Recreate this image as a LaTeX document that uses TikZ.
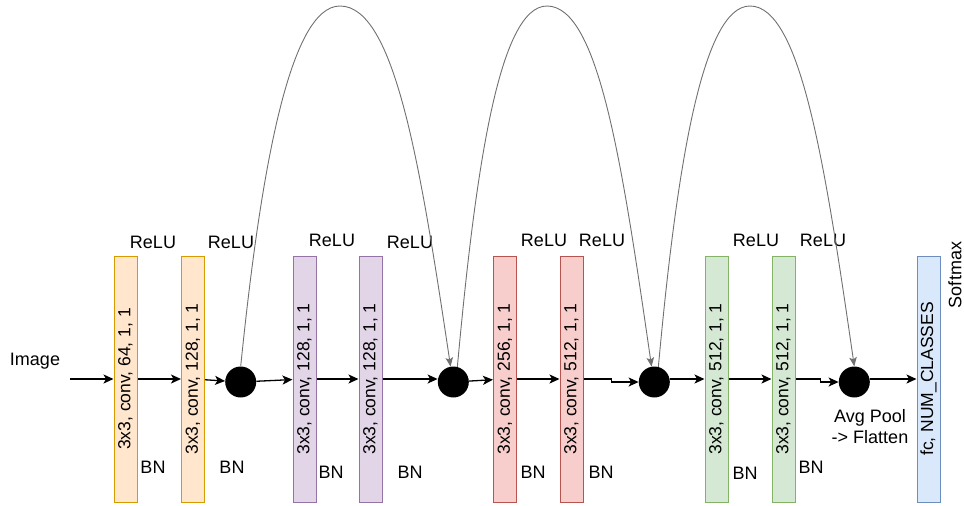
\documentclass[tikz,border=0pt]{standalone}
\usepackage{fontspec}
\setmainfont{Liberation Sans}
\usepackage{graphicx}
\usetikzlibrary{arrows.meta}

\definecolor{orangefond}{HTML}{FFE6CC}	\definecolor{orangetrait}{HTML}{D79B00}
\definecolor{violetfond}{HTML}{E1D5E7}	\definecolor{violettrait}{HTML}{9673A6}
\definecolor{rougefond}{HTML}{F8CECC}	\definecolor{rougetrait}{HTML}{B85450}
\definecolor{vertfond}{HTML}{D5E8D4}	\definecolor{verttrait}{HTML}{82B366}
\definecolor{bleufond}{HTML}{DAE8FC}	\definecolor{bleutrait}{HTML}{6C8EBF}
\definecolor{arcgris}{HTML}{707070}

\tikzset{
	couche/.style		= {draw, line width=1pt, minimum width=23pt, minimum height=246pt,
						   inner sep=0pt, font=\fontsize{17.5}{20}\selectfont},
	orangebox/.style	= {couche, fill=orangefond, draw=orangetrait},
	violetbox/.style	= {couche, fill=violetfond, draw=violettrait},
	rougebox/.style		= {couche, fill=rougefond, draw=rougetrait},
	vertbox/.style		= {couche, fill=vertfond, draw=verttrait},
	bleubox/.style		= {couche, fill=bleufond, draw=bleutrait},
	somme/.style		= {circle, fill=black, minimum size=31pt, inner sep=0pt},
	etiq/.style			= {inner sep=0pt, font=\fontsize{18}{21}\selectfont},
	fleche/.style		= {-{Stealth[length=10pt,width=9pt,inset=2.5pt]}, line width=1.3pt},
	saut/.style			= {-{Stealth[length=9pt,width=7.5pt,inset=2pt]}, draw=arcgris, line width=0.9pt},
}

\begin{document}
\begin{tikzpicture}[x=1pt, y=-1pt]
	% Cadre
	\useasboundingbox	(0,0)	rectangle	(964,506)	;
	% Couches
	\node [orangebox]	(b1)	at (125.5,379)	{\rotatebox{90}{3x3, conv, 64, 1, 1}}	;
	\node [orangebox]	(b2)	at (193,379)	{\rotatebox{90}{3x3, conv, 128, 1, 1}}	;
	\node [violetbox]	(p1)	at (304.5,379)	{\rotatebox{90}{3x3, conv, 128, 1, 1}}	;
	\node [violetbox]	(p2)	at (370.5,379)	{\rotatebox{90}{3x3, conv, 128, 1, 1}}	;
	\node [rougebox]	(r1)	at (505,379)	{\rotatebox{90}{3x3, conv, 256, 1, 1}}	;
	\node [rougebox]	(r2)	at (571.5,379)	{\rotatebox{90}{3x3, conv, 512, 1, 1}}	;
	\node [vertbox]		(g1)	at (716.5,379)	{\rotatebox{90}{3x3, conv, 512, 1, 1}}	;
	\node [vertbox]		(g2)	at (783.5,379)	{\rotatebox{90}{3x3, conv, 512, 1, 1}}	;
	\node [bleubox]		(fc)	at (928.5,379)	{\rotatebox{90}{fc, NUM\_CLASSES}}		;
	% Sommes
	\node [somme]	(c1)	at (240.7,382)	{}	;
	\node [somme]	(c2)	at (453.3,382)	{}	;
	\node [somme]	(c3)	at (654.3,382)	{}	;
	\node [somme]	(c4)	at (854.3,382)	{}	;
	% Textes
	\path (35,361)		node [etiq]	(image)	{Image}	;
	\path (153,242)		node [etiq]	(relu1)	{ReLU}	;
	\path (231,242)		node [etiq]	(relu2)	{ReLU}	;
	\path (332,240)		node [etiq]	(relu3)	{ReLU}	;
	\path (410,242)		node [etiq]	(relu4)	{ReLU}	;
	\path (544,240)		node [etiq]	(relu5)	{ReLU}	;
	\path (602,240)		node [etiq]	(relu6)	{ReLU}	;
	\path (756,240)		node [etiq]	(relu7)	{ReLU}	;
	\path (823,240)		node [etiq]	(relu8)	{ReLU}	;
	\path (153,467)		node [etiq]	(bn1)	{BN}	;
	\path (232,467)		node [etiq]	(bn2)	{BN}	;
	\path (331,472)		node [etiq]	(bn3)	{BN}	;
	\path (410,472)		node [etiq]	(bn4)	{BN}	;
	\path (533,472)		node [etiq]	(bn5)	{BN}	;
	\path (601,472)		node [etiq]	(bn6)	{BN}	;
	\path (745,473)		node [etiq]	(bn7)	{BN}	;
	\path (811,467)		node [etiq]	(bn8)	{BN}	;
	\path (870,427)		node [etiq, align=center]	(pool)	{Avg Pool\\-> Flatten}	;
	\path (955,275)		node [etiq, rotate=90]		(softmax)	{Softmax}	;
	% Fleches
	\coordinate (entree) at (70,379)	;
	\draw [fleche]	(entree)	-- (b1)	;
	\draw [fleche]	(b1)		-- (b2)	;
	\draw [fleche]	(b2)		-- (c1)	;
	\draw [fleche]	(c1)		-- (p1)	;
	\draw [fleche]	(p1)		-- (p2)	;
	\draw [fleche]	(p2.east)	-- (p2.east -| c2.west)	;
	\draw [fleche]	(c2)		-- (r1)	;
	\draw [fleche]	(r1)		-- (r2)	;
	\draw [fleche]	(r2.east)	-- ++(28,0) |- (c3)	;
	\draw [fleche]	(c3.east |- g1.west)	-- (g1.west)	;
	\draw [fleche]	(g1)		-- (g2)	;
	\draw [fleche]	(g2.east)	-- ++(25,0) |- (c4)	;
	\draw [fleche]	(c4.east |- fc.west)	-- (fc.west)	;
	% Sauts
	\coordinate (h1) at (340,6)	;
	\coordinate (h2) at (547,6)	;
	\coordinate (h3) at (750,6)	;
	\draw [saut]	(c1.north)	.. controls +(20,-197) and +(-50,0) .. (h1)
								.. controls +(55,0) and +(-30,-200) .. (c2.100)	;
	\draw [saut]	(c2.75)		.. controls +(18,-197) and +(-48,0) .. (h2)
								.. controls +(52,0) and +(-29,-200) .. (c3.100)	;
	\draw [saut]	(c3.75)		.. controls +(18,-197) and +(-48,0) .. (h3)
								.. controls +(51,0) and +(-29,-200) .. (c4.north)	;
\end{tikzpicture}
\end{document}
